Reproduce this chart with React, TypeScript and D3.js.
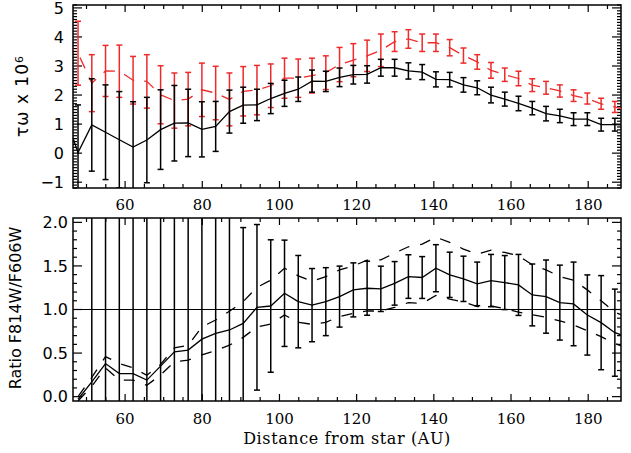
import { useEffect, useRef } from "react";
import * as d3 from "d3";

// distance from the star (AU), one value per annulus
const distance = [
  44.23, 47.8, 51.37, 54.93, 58.5, 62.07, 65.64, 69.2, 72.77, 76.34, 79.9, 83.47, 87.04, 90.6,
  94.17, 97.74, 101.31, 104.87, 108.44, 112.01, 115.57, 119.14, 122.71, 126.27, 129.84, 133.41,
  136.98, 140.54, 144.11, 147.68, 151.24, 154.81, 158.38, 161.94, 165.51, 169.08, 172.65, 176.21,
  179.78, 183.35, 186.91, 190.48,
];

// top panel : tau*omega x 1e6 (black and red series)
const tauBlack = [
  1.37, 0.02, 0.97, 0.72, 0.46, 0.21, 0.45, 0.81, 1.03, 1.04, 0.82, 0.92, 1.43, 1.65, 1.66, 1.88,
  2.06, 2.2, 2.48, 2.47, 2.61, 2.7, 2.71, 2.94, 2.94, 2.83, 2.79, 2.54, 2.53, 2.35, 2.25, 2.0, 1.86,
  1.71, 1.55, 1.36, 1.28, 1.17, 1.17, 0.98, 0.98, 0.97,
];
const tauBlackErr = [
  1.6, 1.64, 1.59, 1.63, 1.66, 1.56, 1.47, 1.37, 1.3, 1.16, 0.95, 0.86, 0.74, 0.62, 0.54, 0.52,
  0.45, 0.42, 0.38, 0.35, 0.32, 0.32, 0.3, 0.29, 0.29, 0.28, 0.26, 0.26, 0.25, 0.25, 0.24, 0.27,
  0.24, 0.25, 0.23, 0.25, 0.23, 0.22, 0.22, 0.22, 0.22, 0.22,
];
const tauRed = [
  3.8, 3.44, 2.41, 2.83, 2.82, 2.51, 2.47, 2.01, 1.81, 1.86, 2.18, 2.07, 1.85, 2.13, 2.17, 2.32,
  2.58, 2.58, 2.67, 2.77, 3.05, 3.2, 3.35, 3.54, 3.84, 3.93, 3.8, 3.8, 3.63, 3.36, 3.14, 2.85, 2.7,
  2.57, 2.34, 2.25, 2.14, 1.98, 1.88, 1.7, 1.59, 1.45,
];
const tauRedErr = [
  1.0, 1.1, 0.98, 0.88, 0.9, 0.82, 0.92, 1.0, 0.95, 0.92, 0.92, 0.92, 0.91, 0.85, 0.85, 0.75, 0.69,
  0.66, 0.6, 0.58, 0.59, 0.57, 0.54, 0.56, 0.34, 0.32, 0.3, 0.3, 0.28, 0.26, 0.25, 0.27, 0.23, 0.25,
  0.22, 0.22, 0.21, 0.2, 0.19, 0.19, 0.19, 0.19,
];

// bottom panel : colour ratio F814W/F606W
const ratio = [
  null, -0.03, 0.17, 0.38, 0.265, 0.265, 0.19, 0.35, 0.515, 0.535, 0.66, 0.726, 0.765, 0.84, 1.025,
  1.04, 1.186, 1.09, 1.05, 1.09, 1.148, 1.225, 1.244, 1.237, 1.3, 1.378, 1.367, 1.474, 1.398, 1.352,
  1.294, 1.332, 1.309, 1.282, 1.167, 1.148, 1.079, 1.064, 0.937, 0.849, 0.734, 0.68,
];
const ratioErr = [
  null, null, 2.4, 2.6, 2.2, 2.5, 2.9, 2.3, 2.0, 1.8, 1.6, 1.5, 1.4, 1.1, 0.95, 0.76, 0.61, 0.53,
  0.42, 0.39, 0.35, 0.31, 0.31, 0.26, 0.25, 0.25, 0.24, 0.27, 0.26, 0.26, 0.25, 0.3, 0.31, 0.35,
  0.355, 0.42, 0.43, 0.48, 0.46, 0.54, 0.5, 0.52,
];
const ratioUpper = [
  null, 0.0, 0.22, 0.46, 0.38, 0.33, 0.245, 0.37, 0.56, 0.59, 0.8, 0.88, 0.98, 1.09, 1.255, 1.336,
  1.474, 1.386, 1.325, 1.378, 1.455, 1.5, 1.565, 1.57, 1.647, 1.72, 1.75, 1.83, 1.77, 1.693, 1.635,
  1.68, 1.655, 1.616, 1.513, 1.455, 1.378, 1.336, 1.225, 1.1, 0.97, 0.9,
];
const ratioLower = [
  null, -0.05, 0.12, 0.33, 0.19, 0.19, 0.13, 0.25, 0.4, 0.42, 0.48, 0.53, 0.59, 0.68, 0.8, 0.834,
  0.937, 0.853, 0.83, 0.853, 0.92, 0.956, 0.983, 0.983, 1.025, 1.079, 1.07, 1.16, 1.12, 1.087,
  1.033, 1.04, 1.01, 0.97, 0.94, 0.91, 0.87, 0.822, 0.757, 0.688, 0.61, 0.55,
];

const xTicks = [60, 80, 100, 120, 140, 160, 180];
const tauTicks = [-1, 0, 1, 2, 3, 4, 5];
const ratioTicks = [0, 0.5, 1, 1.5, 2];

const RED = "#ee2a2a";
const SANS = "'DejaVu Sans', sans-serif";
const SERIF = "'DejaVu Serif', serif";

const App = () => {
  const svgRef = useRef<SVGSVGElement>(null);

  useEffect(() => {
    const svg = d3.select(svgRef.current);
    svg.selectAll("*").remove();

    const x = d3.scaleLinear().domain([46.5, 188.5]).range([73, 621]);
    const yTau = d3.scaleLinear().domain([-1.2, 5.1]).range([188, 5]);
    const yRat = d3.scaleLinear().domain([-0.05, 2.05]).range([401, 218]);

    const defs = svg.append("defs");

    // cadre + graduations facon IDL (ticks vers l'interieur sur les 4 cotes)
    const frame = (id: string, y: any, minor: number[], isMajor: (v: number) => boolean) => {
      const [x0, x1] = x.range();
      const [y0, y1] = y.range();
      defs
        .append("clipPath")
        .attr("id", id)
        .append("rect")
        .attr("x", x0)
        .attr("y", y1)
        .attr("width", x1 - x0)
        .attr("height", y0 - y1);

      const g = svg.append("g").attr("stroke", "#000").attr("stroke-width", 1.2);
      const xMinor = d3.range(50, 190, 5);
      xMinor.forEach((v) => {
        const len = v % 20 === 0 ? 7 : 4;
        g.append("line").attr("x1", x(v)).attr("x2", x(v)).attr("y1", y0).attr("y2", y0 - len);
        g.append("line").attr("x1", x(v)).attr("x2", x(v)).attr("y1", y1).attr("y2", y1 + len);
      });
      minor.forEach((v) => {
        const len = isMajor(v) ? 9 : 4;
        g.append("line").attr("x1", x0).attr("x2", x0 + len).attr("y1", y(v)).attr("y2", y(v));
        g.append("line").attr("x1", x1).attr("x2", x1 - len).attr("y1", y(v)).attr("y2", y(v));
      });
      g.append("rect")
        .attr("x", x0)
        .attr("y", y1)
        .attr("width", x1 - x0)
        .attr("height", y0 - y1)
        .attr("fill", "none")
        .attr("stroke-width", 1.5);
      return svg.append("g").attr("clip-path", `url(#${id})`);
    };

    const errorBars = (g: any, y: any, vals: any[], errs: any[], color: string) => {
      const eg = g.append("g").attr("stroke", color).attr("stroke-width", 1.5);
      distance.forEach((d, i) => {
        const v = vals[i];
        const e = errs[i];
        if (v == null || e == null) return;
        const ya = y(v + e);
        const yb = y(v - e);
        eg.append("line").attr("x1", x(d)).attr("x2", x(d)).attr("y1", ya).attr("y2", yb);
        eg.append("line").attr("x1", x(d) - 3).attr("x2", x(d) + 3).attr("y1", ya).attr("y2", ya);
        eg.append("line").attr("x1", x(d) - 3).attr("x2", x(d) + 3).attr("y1", yb).attr("y2", yb);
      });
    };

    const path = (g: any, y: any, vals: any[], color: string, dash: string | null) => {
      const line = d3
        .line<number>()
        .defined((_, i) => vals[i] != null)
        .x((_, i) => x(distance[i]))
        .y((_, i) => y(vals[i]));
      g.append("path")
        .attr("d", line(distance))
        .attr("fill", "none")
        .attr("stroke", color)
        .attr("stroke-width", 1.3)
        .attr("stroke-dasharray", dash);
    };

    // ----- panneau du haut -----
    const tauMinor = d3.range(-12, 52).map((k) => k / 10);
    const top = frame("clipTop", yTau, tauMinor, (v) => Math.abs(v - Math.round(v)) < 1e-6);
    errorBars(top, yTau, tauRed, tauRedErr, RED);
    path(top, yTau, tauRed, RED, "12,10");
    errorBars(top, yTau, tauBlack, tauBlackErr, "#000");
    path(top, yTau, tauBlack, "#000", null);

    svg
      .append("g")
      .selectAll("text")
      .data(tauTicks)
      .enter()
      .append("text")
      .attr("x", 64)
      .attr("y", (d) => yTau(d))
      .attr("dy", "0.36em")
      .attr("text-anchor", "end")
      .style("font", `16px ${SANS}`)
      .text((d) => (d < 0 ? `\u2212${-d}` : `${d}`));

    const tauLabel = svg
      .append("text")
      .attr("transform", "translate(28,96) rotate(-90)")
      .attr("text-anchor", "middle")
      .style("font", `17px ${SANS}`)
      .style("letter-spacing", "1px");
    tauLabel.append("tspan").text("\u03c4\u03c9 x 10");
    tauLabel.append("tspan").attr("dy", "-0.5em").style("font-size", "11px").text("6");

    // ----- panneau du bas -----
    const ratMinor = d3.range(0, 21).map((k) => k / 10);
    const bot = frame("clipBot", yRat, ratMinor, (v) => Math.abs(v * 2 - Math.round(v * 2)) < 1e-6);
    bot
      .append("line")
      .attr("x1", x(46.5))
      .attr("x2", x(188.5))
      .attr("y1", yRat(1))
      .attr("y2", yRat(1))
      .attr("stroke", "#000")
      .attr("stroke-width", 1.2);
    errorBars(bot, yRat, ratio, ratioErr, "#000");
    path(bot, yRat, ratioUpper, "#000", "11,11");
    path(bot, yRat, ratioLower, "#000", "11,11");
    path(bot, yRat, ratio, "#000", null);

    svg
      .append("g")
      .selectAll("text")
      .data(ratioTicks)
      .enter()
      .append("text")
      .attr("x", 68)
      .attr("y", (d) => yRat(d))
      .attr("dy", "0.36em")
      .attr("text-anchor", "end")
      .style("font", `16px ${SANS}`)
      .text((d) => d3.format(".1f")(d));

    svg
      .append("text")
      .attr("transform", "translate(21,308) rotate(-90)")
      .attr("text-anchor", "middle")
      .style("font", `16px ${SANS}`)
      .text("Ratio F814W/F606W");

    // graduations en X (au-dessus et au-dessous du panneau du bas)
    [205, 419].forEach((yy) => {
      svg
        .append("g")
        .selectAll("text")
        .data(xTicks)
        .enter()
        .append("text")
        .attr("x", (d) => x(d))
        .attr("y", yy)
        .attr("dy", "0.36em")
        .attr("text-anchor", "middle")
        .style("font", `15px ${SERIF}`)
        .text((d) => d);
    });

    svg
      .append("text")
      .attr("x", x(117.5))
      .attr("y", 438)
      .attr("dy", "0.36em")
      .attr("text-anchor", "middle")
      .style("font", `16px ${SERIF}`)
      .style("letter-spacing", "0.6px")
      .text("Distance from star (AU)");
  }, []);

  return (
    <svg
      ref={svgRef}
      width={631}
      height={453}
      style={{ position: "absolute", left: 0, top: 0, background: "#fff" }}
    />
  );
};

export default App;
